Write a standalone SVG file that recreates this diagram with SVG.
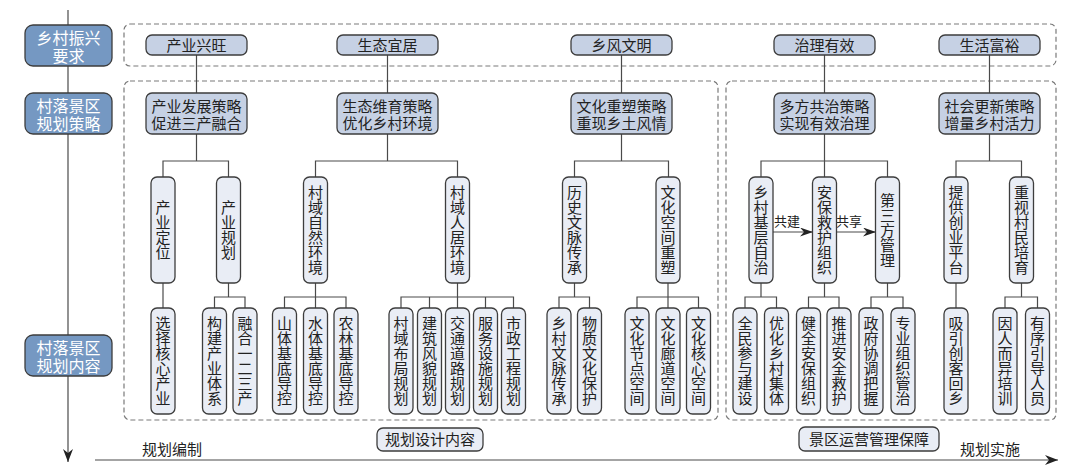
<svg xmlns="http://www.w3.org/2000/svg" width="1080" height="476" viewBox="0 0 1080 476">
<style>
.lbl{fill:#7598c2;stroke:#3d3d3d;stroke-width:1.3}
.top{fill:#c6d1e4;stroke:#3d3d3d;stroke-width:1.3}
.v{fill:#e9edf5;stroke:#3d3d3d;stroke-width:1.3}
.dash{fill:none;stroke:#7a7a7a;stroke-width:1.2;stroke-dasharray:5 3}
.t{font-family:"Noto Sans CJK SC","Noto Sans",sans-serif;font-size:15px;fill:#222;text-anchor:middle}
.lt{font-family:"Noto Sans CJK SC","Noto Sans",sans-serif;font-size:16px;fill:#fff;text-anchor:middle}
.vt{font-family:"Noto Sans CJK SC","Noto Sans",sans-serif;font-size:15px;fill:#222;text-anchor:middle;writing-mode:vertical-rl}
.sm{font-family:"Noto Sans CJK SC","Noto Sans",sans-serif;font-size:13px;fill:#222;text-anchor:middle}
.c{fill:none;stroke:#4a4a4a;stroke-width:1.2}
</style>
<defs>
<marker id="ah" viewBox="0 0 13 9" refX="13" refY="4.5" markerWidth="13" markerHeight="9" markerUnits="userSpaceOnUse" orient="auto"><path d="M0,0 L13,4.5 L0,9 L4,4.5 z" fill="#222"/></marker>
<marker id="ax" viewBox="0 0 13 10" refX="13" refY="5" markerWidth="13" markerHeight="10" markerUnits="userSpaceOnUse" orient="auto"><path d="M0,0 L13,5 L0,10 L4,5 z" fill="#222"/></marker>
</defs>
<g id="axes">
<path d="M68,10 V462" class="c" stroke="#555" marker-end="url(#ax)"/>
<path d="M95,460 H1058" class="c" stroke="#333" marker-end="url(#ax)"/>
</g>
<g id="frames">
<rect class="dash" x="124" y="24" width="932" height="42" rx="6"/>
<rect class="dash" x="124" y="81" width="594" height="339" rx="6"/>
<rect class="dash" x="726" y="81" width="330" height="339" rx="6"/>
</g>
<g id="label-req"><rect class="lbl" x="25" y="25" width="87" height="41" rx="8"/><text class="lt"><tspan x="68.5" y="43.5">乡村振兴</tspan><tspan x="68.5" y="61.5">要求</tspan></text></g>
<g id="label-strategy"><rect class="lbl" x="25" y="93" width="87" height="41" rx="8"/><text class="lt"><tspan x="68.5" y="111.5">村落景区</tspan><tspan x="68.5" y="129.5">规划策略</tspan></text></g>
<g id="label-content"><rect class="lbl" x="25" y="335" width="87" height="41" rx="8"/><text class="lt"><tspan x="68.5" y="353.5">村落景区</tspan><tspan x="68.5" y="371.5">规划内容</tspan></text></g>
<g id="connectors">
<path class="c" d="M196.5,55 V93 M387.5,55 V93 M621.5,55 V93 M824.5,55 V93 M989.5,55 V93"/>
<path class="c" d="M196.5,134 V161 M163,177 V161 H228.5 V177"/>
<path class="c" d="M387.5,134 V161 M315.5,177 V161 H457.5 V177"/>
<path class="c" d="M621.5,134 V161 M574.5,177 V161 H668.5 V177"/>
<path class="c" d="M824.5,134 V177 M761,177 V161 H887.5 V177"/>
<path class="c" d="M989.5,134 V161 M956,177 V161 H1021.5 V177"/>
<path class="c" d="M163,283 V308"/>
<path class="c" d="M228.5,283 V297 M214.5,308 V297 H245 V308"/>
<path class="c" d="M315.5,283 V308 M284.5,308 V297 H346 V308"/>
<path class="c" d="M457.5,283 V308 M401,308 V297 H513.5 V308 M429.5,297 V308 M485.5,297 V308"/>
<path class="c" d="M574.5,283 V297 M559,308 V297 H589.5 V308"/>
<path class="c" d="M668,283 V308 M637,308 V297 H698.5 V308"/>
<path class="c" d="M761,283 V297 M745,308 V297 H776.5 V308"/>
<path class="c" d="M824.5,283 V297 M808.5,308 V297 H839 V308"/>
<path class="c" d="M887.5,283 V297 M871,308 V297 H903 V308"/>
<path class="c" d="M956,283 V308"/>
<path class="c" d="M1021.5,283 V297 M1005,308 V297 H1037.5 V308"/>
<path class="c" d="M773,232 H813" marker-end="url(#ah)"/>
<path class="c" d="M836,232 H876" marker-end="url(#ah)"/>
<text class="sm" x="787" y="226">共建</text>
<text class="sm" x="849" y="226">共享</text>
</g>
<g id="n-cyxw"><rect class="top" x="146" y="35" width="101" height="20" rx="6"/><text class="t" x="196.5" y="51">产业兴旺</text></g>
<g id="n-styj"><rect class="top" x="337" y="35" width="101" height="20" rx="6"/><text class="t" x="387.5" y="51">生态宜居</text></g>
<g id="n-xfwm"><rect class="top" x="571" y="35" width="101" height="20" rx="6"/><text class="t" x="621.5" y="51">乡风文明</text></g>
<g id="n-zlyx"><rect class="top" x="774" y="35" width="101" height="20" rx="6"/><text class="t" x="824.5" y="51">治理有效</text></g>
<g id="n-shfy"><rect class="top" x="939" y="35" width="101" height="20" rx="6"/><text class="t" x="989.5" y="51">生活富裕</text></g>
<g id="s-cy"><rect class="top" x="146" y="93" width="101" height="41" rx="6"/><text class="t"><tspan x="196.5" y="111.5">产业发展策略</tspan><tspan x="196.5" y="128.5">促进三产融合</tspan></text></g>
<g id="s-st"><rect class="top" x="337" y="93" width="101" height="41" rx="6"/><text class="t"><tspan x="387.5" y="111.5">生态维育策略</tspan><tspan x="387.5" y="128.5">优化乡村环境</tspan></text></g>
<g id="s-wh"><rect class="top" x="571" y="93" width="101" height="41" rx="6"/><text class="t"><tspan x="621.5" y="111.5">文化重塑策略</tspan><tspan x="621.5" y="128.5">重现乡土风情</tspan></text></g>
<g id="s-zl"><rect class="top" x="774" y="93" width="101" height="41" rx="6"/><text class="t"><tspan x="824.5" y="111.5">多方共治策略</tspan><tspan x="824.5" y="128.5">实现有效治理</tspan></text></g>
<g id="s-sh"><rect class="top" x="939" y="93" width="101" height="41" rx="6"/><text class="t"><tspan x="989.5" y="111.5">社会更新策略</tspan><tspan x="989.5" y="128.5">增量乡村活力</tspan></text></g>
<g id="m1"><rect class="v" x="151" y="177" width="24" height="106" rx="6"/><text class="vt" x="163" y="230">产业定位</text></g>
<g id="m2"><rect class="v" x="216.5" y="177" width="24" height="106" rx="6"/><text class="vt" x="228.5" y="230">产业规划</text></g>
<g id="m3"><rect class="v" x="303.5" y="177" width="24" height="106" rx="6"/><text class="vt" x="315.5" y="230">村域自然环境</text></g>
<g id="m4"><rect class="v" x="445.5" y="177" width="24" height="106" rx="6"/><text class="vt" x="457.5" y="230">村域人居环境</text></g>
<g id="m5"><rect class="v" x="562.5" y="177" width="24" height="106" rx="6"/><text class="vt" x="574.5" y="230">历史文脉传承</text></g>
<g id="m6"><rect class="v" x="656" y="177" width="24" height="106" rx="6"/><text class="vt" x="668" y="230">文化空间重塑</text></g>
<g id="m7"><rect class="v" x="749" y="177" width="24" height="106" rx="6"/><text class="vt" x="761" y="230">乡村基层自治</text></g>
<g id="m8"><rect class="v" x="812.5" y="177" width="24" height="106" rx="6"/><text class="vt" x="824.5" y="230">安保救护组织</text></g>
<g id="m9"><rect class="v" x="875.5" y="177" width="24" height="106" rx="6"/><text class="vt" x="887.5" y="230">第三方管理</text></g>
<g id="m10"><rect class="v" x="944" y="177" width="24" height="106" rx="6"/><text class="vt" x="956" y="230">提供创业平台</text></g>
<g id="m11"><rect class="v" x="1009.5" y="177" width="24" height="106" rx="6"/><text class="vt" x="1021.5" y="230">重视村民培育</text></g>
<g id="b1"><rect class="v" x="151" y="308" width="24" height="106" rx="6"/><text class="vt" x="163" y="361">选择核心产业</text></g>
<g id="b2"><rect class="v" x="202.5" y="308" width="24" height="106" rx="6"/><text class="vt" x="214.5" y="361">构建产业体系</text></g>
<g id="b3"><rect class="v" x="233" y="308" width="24" height="106" rx="6"/><text class="vt" x="245" y="361">融合一二三产</text></g>
<g id="b4"><rect class="v" x="272.5" y="308" width="24" height="106" rx="6"/><text class="vt" x="284.5" y="361">山体基底导控</text></g>
<g id="b5"><rect class="v" x="303.5" y="308" width="24" height="106" rx="6"/><text class="vt" x="315.5" y="361">水体基底导控</text></g>
<g id="b6"><rect class="v" x="334" y="308" width="24" height="106" rx="6"/><text class="vt" x="346" y="361">农林基底导控</text></g>
<g id="b7"><rect class="v" x="389" y="308" width="24" height="106" rx="6"/><text class="vt" x="401" y="361">村域布局规划</text></g>
<g id="b8"><rect class="v" x="417.5" y="308" width="24" height="106" rx="6"/><text class="vt" x="429.5" y="361">建筑风貌规划</text></g>
<g id="b9"><rect class="v" x="445.5" y="308" width="24" height="106" rx="6"/><text class="vt" x="457.5" y="361">交通道路规划</text></g>
<g id="b10"><rect class="v" x="473.5" y="308" width="24" height="106" rx="6"/><text class="vt" x="485.5" y="361">服务设施规划</text></g>
<g id="b11"><rect class="v" x="501.5" y="308" width="24" height="106" rx="6"/><text class="vt" x="513.5" y="361">市政工程规划</text></g>
<g id="b12"><rect class="v" x="547" y="308" width="24" height="106" rx="6"/><text class="vt" x="559" y="361">乡村文脉传承</text></g>
<g id="b13"><rect class="v" x="577.5" y="308" width="24" height="106" rx="6"/><text class="vt" x="589.5" y="361">物质文化保护</text></g>
<g id="b14"><rect class="v" x="625" y="308" width="24" height="106" rx="6"/><text class="vt" x="637" y="361">文化节点空间</text></g>
<g id="b15"><rect class="v" x="656" y="308" width="24" height="106" rx="6"/><text class="vt" x="668" y="361">文化廊道空间</text></g>
<g id="b16"><rect class="v" x="686.5" y="308" width="24" height="106" rx="6"/><text class="vt" x="698.5" y="361">文化核心空间</text></g>
<g id="b17"><rect class="v" x="733" y="308" width="24" height="106" rx="6"/><text class="vt" x="745" y="361">全民参与建设</text></g>
<g id="b18"><rect class="v" x="764.5" y="308" width="24" height="106" rx="6"/><text class="vt" x="776.5" y="361">优化乡村集体</text></g>
<g id="b19"><rect class="v" x="796.5" y="308" width="24" height="106" rx="6"/><text class="vt" x="808.5" y="361">健全安保组织</text></g>
<g id="b20"><rect class="v" x="827" y="308" width="24" height="106" rx="6"/><text class="vt" x="839" y="361">推进安全救护</text></g>
<g id="b21"><rect class="v" x="859" y="308" width="24" height="106" rx="6"/><text class="vt" x="871" y="361">政府协调把握</text></g>
<g id="b22"><rect class="v" x="891" y="308" width="24" height="106" rx="6"/><text class="vt" x="903" y="361">专业组织管治</text></g>
<g id="b23"><rect class="v" x="944" y="308" width="24" height="106" rx="6"/><text class="vt" x="956" y="361">吸引创客回乡</text></g>
<g id="b24"><rect class="v" x="993" y="308" width="24" height="106" rx="6"/><text class="vt" x="1005" y="361">因人而异培训</text></g>
<g id="b25"><rect class="v" x="1025.5" y="308" width="24" height="106" rx="6"/><text class="vt" x="1037.5" y="361">有序引导人员</text></g>
<g id="f-design"><rect class="v" x="377" y="428" width="106" height="23" rx="6"/><text class="t" x="430" y="445">规划设计内容</text></g>
<g id="f-ops"><rect class="v" x="799" y="427" width="140" height="24" rx="6"/><text class="t" x="869" y="445">景区运营管理保障</text></g>
<g id="phase-labels"><text class="t" x="172" y="455">规划编制</text><text class="t" x="990" y="455">规划实施</text></g>
</svg>
